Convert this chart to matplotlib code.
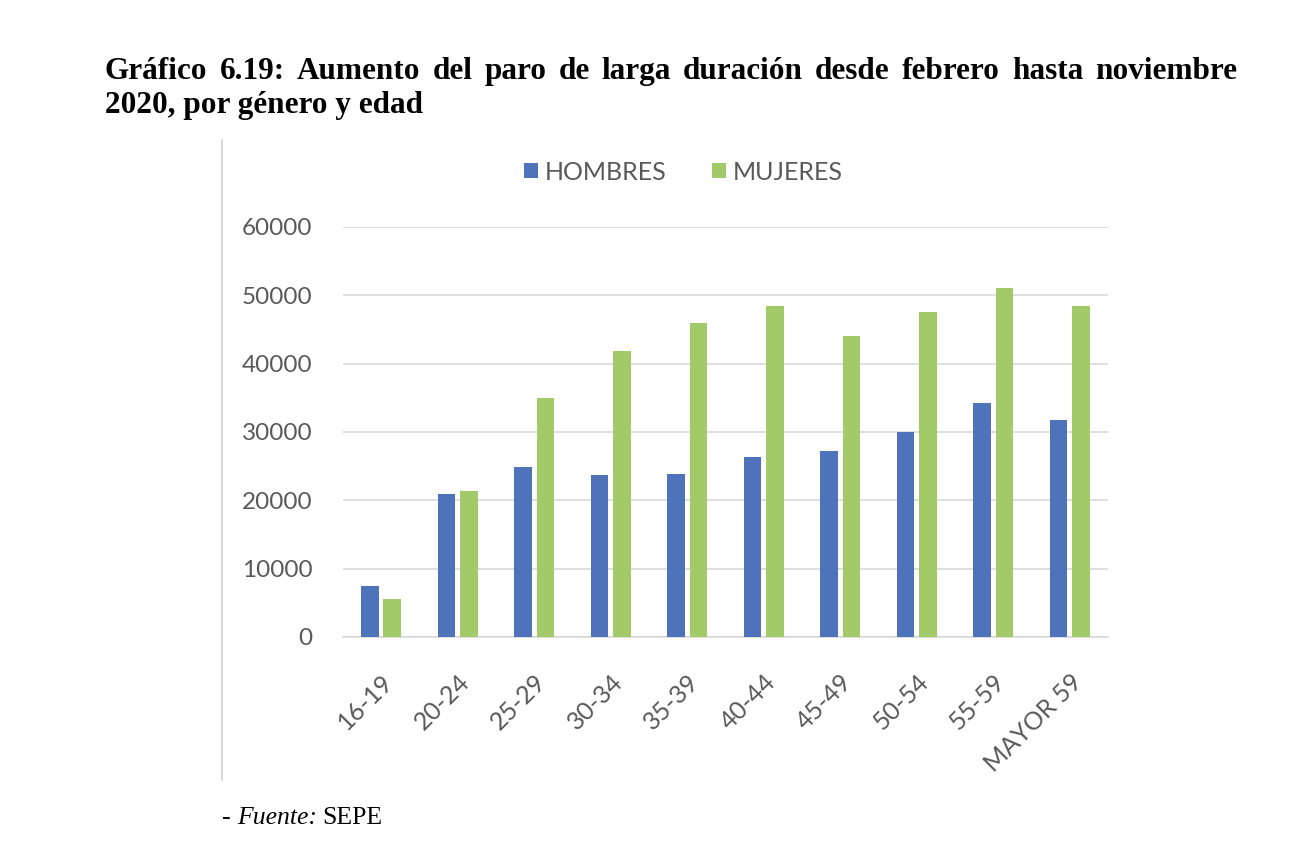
import matplotlib
matplotlib.use("Agg")
import matplotlib.pyplot as plt
import numpy as np
from matplotlib.lines import Line2D

# datos
grupos = ["16-19", "20-24", "25-29", "30-34", "35-39",
          "40-44", "45-49", "50-54", "55-59", "MAYOR 59"]
hombres = [7500, 20900, 24900, 23700, 23800, 26400, 27200, 30000, 34200, 31800]
mujeres = [5500, 21300, 34900, 41800, 45900, 48500, 44100, 47600, 51100, 48400]
yticks = [0, 10000, 20000, 30000, 40000, 50000, 60000]

AZUL = "#4F73BA"
VERDE = "#A2CA68"
GRIS = "#595959"

fig = plt.figure(figsize=(12.99, 8.65), dpi=100)
ax = fig.add_axes([0.264, 0.2636, 0.589, 0.474])

x = np.arange(len(grupos))
w = 0.23
ax.bar(x - 0.145, hombres, w, color=AZUL, label="HOMBRES", zorder=3)
ax.bar(x + 0.145, mujeres, w, color=VERDE, label="MUJERES", zorder=3)

ax.set_xlim(-0.5, len(grupos) - 0.5)
ax.set_ylim(0, 60000)
ax.set_yticks(yticks)
ax.set_yticklabels([str(v) for v in yticks], family="Lato", fontsize=17.5, color=GRIS)
ax.set_xticks(x)
ax.set_xticklabels(grupos, family="Lato", fontsize=18, color=GRIS,
                   rotation=45, ha="right", rotation_mode="anchor")
ax.tick_params(length=0)
ax.tick_params(axis="y", pad=22)
ax.tick_params(axis="x", pad=24)
ax.grid(axis="y", color="#d9d9d9", linewidth=1.2, zorder=0)
for s in ["top", "right", "left"]:
    ax.spines[s].set_visible(False)
ax.spines["bottom"].set_color("#d9d9d9")
ax.spines["bottom"].set_linewidth(1.2)

ax.legend(loc="center", bbox_to_anchor=(0.445, 1.134), ncol=2, frameon=False,
          prop={"family": "Lato", "size": 18}, labelcolor=GRIS,
          handlelength=0.55, handleheight=0.55, handletextpad=0.3, columnspacing=1.8)

# borde izquierdo del gráfico incrustado
fig.add_artist(Line2D([222 / 1299, 222 / 1299], [1 - 140 / 865, 1 - 780 / 865],
                      color="#d0d0d0", linewidth=1.2))

# título justificado
linea1 = "Gráfico 6.19: Aumento del paro de larga duración desde febrero hasta noviembre"
linea2 = "2020, por género y edad"
x0, x1 = 105 / 1299, 1237 / 1299
fs_tit = 22.5
renderer = fig.canvas.get_renderer()
palabras = linea1.split()
textos = [fig.text(0, 0, p, family="Liberation Serif", weight="bold", fontsize=fs_tit)
          for p in palabras]
anchos = [t.get_window_extent(renderer).width / fig.bbox.width for t in textos]
hueco = (x1 - x0 - sum(anchos)) / (len(palabras) - 1)
pos = x0
for t, a in zip(textos, anchos):
    t.set_position((pos, 1 - 79 / 865))
    pos += a + hueco
fig.text(x0, 1 - 113 / 865, linea2, family="Liberation Serif", weight="bold",
         fontsize=fs_tit)

# fuente
yf = 1 - 824 / 865
t1 = fig.text(222 / 1299, yf, "- ", family="Liberation Serif", fontsize=18.5)
a1 = t1.get_window_extent(renderer).width / fig.bbox.width
t2 = fig.text(222 / 1299 + a1, yf, "Fuente:", family="Liberation Serif",
              style="italic", fontsize=18.5)
a2 = t2.get_window_extent(renderer).width / fig.bbox.width
fig.text(222 / 1299 + a1 + a2 + 0.004, yf, "SEPE",
         family="Liberation Serif", fontsize=18.5)

fig.savefig("out.png", dpi=100)
